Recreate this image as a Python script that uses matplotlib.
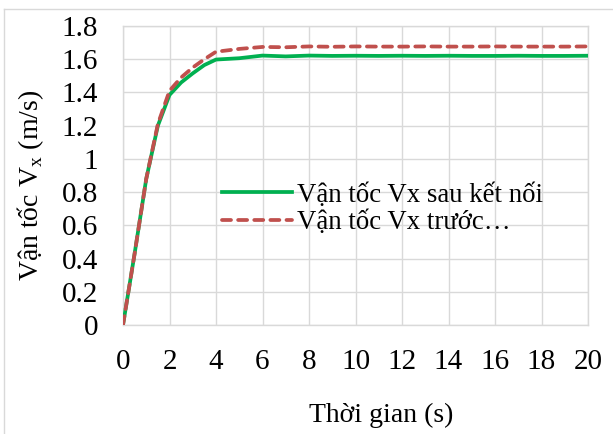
import matplotlib
matplotlib.use("Agg")
import matplotlib.pyplot as plt
from matplotlib.lines import Line2D

# Data
t = [0, 0.5, 1, 1.5, 2, 2.5, 3, 3.5, 4, 5, 6, 7, 8, 9, 10, 11, 12, 13, 14, 15, 16, 17, 18, 19, 20]
v_after = [0, 0.43, 0.88, 1.20, 1.385, 1.46, 1.515, 1.565, 1.598, 1.606, 1.622, 1.617, 1.622, 1.62,
           1.621, 1.62, 1.621, 1.62, 1.621, 1.62, 1.62, 1.621, 1.62, 1.62, 1.621]
v_before = [0, 0.43, 0.88, 1.21, 1.41, 1.49, 1.55, 1.60, 1.645, 1.662, 1.674, 1.672, 1.677, 1.675,
            1.677, 1.676, 1.676, 1.677, 1.676, 1.676, 1.677, 1.676, 1.676, 1.676, 1.677]
label_after = "Vận tốc Vx sau kết nối"
label_before = "Vận tốc Vx trước…"
xticks = list(range(0, 21, 2))
yticks = [0, 0.2, 0.4, 0.6, 0.8, 1.0, 1.2, 1.4, 1.6, 1.8]
ytick_labels = ["0", "0.2", "0.4", "0.6", "0.8", "1", "1.2", "1.4", "1.6", "1.8"]

plt.rcParams['font.family'] = ['Liberation Serif', 'DejaVu Serif']
plt.rcParams['mathtext.fontset'] = 'custom'
plt.rcParams['mathtext.rm'] = 'Liberation Serif'

W, H = 613, 434
fig = plt.figure(figsize=(W / 100, H / 100), dpi=100)
ax = fig.add_axes([123 / W, 1 - 325 / H, (588 - 123) / W, (325 - 26) / H])

grid_c = '#d9d9d9'
green, red = '#00B050', '#C0504D'
lw = 2.7
red_dash = (2.4, 1.9)
ax.plot(t, v_after, color=green, lw=lw, solid_capstyle='round', solid_joinstyle='round', zorder=3)
ax.plot(t, v_before, color=red, lw=lw, dashes=red_dash, dash_capstyle='round', zorder=4)

ax.set_xlim(0, 20)
ax.set_ylim(0, 1.8)
ax.set_xticks(xticks)
ax.set_yticks(yticks)
ax.set_yticklabels(ytick_labels)
ax.tick_params(axis='both', length=0, labelsize=21)
ax.tick_params(axis='y', pad=18)
ax.tick_params(axis='x', pad=17)
ax.grid(True, color=grid_c, lw=1.0)
ax.set_axisbelow(True)
for s in ax.spines.values():
    s.set_color(grid_c)
    s.set_linewidth(1.0)

# axis titles
fig.text(381 / W, 1 - 415 / H, "Thời gian (s)", ha='center', va='center', fontsize=20)
fig.text(31 / W, 1 - 185 / H, r"Vận tốc V$_\mathregular{x}$ (m/s)", ha='center', va='center',
         rotation=90, fontsize=20)

# legend
handles = [Line2D([], [], color=green, lw=lw),
           Line2D([], [], color=red, lw=lw, dashes=red_dash, dash_capstyle='round')]
leg = fig.legend(handles, [label_after, label_before], loc='center left',
                 bbox_to_anchor=(222 / W, 1 - 209 / H), frameon=False, fontsize=19.3,
                 handlelength=2.6, handletextpad=0.2, borderpad=0, borderaxespad=0,
                 labelspacing=0.1)

# outer chart frame
fig.add_artist(Line2D([4 / W, 1], [1 - 9 / H, 1 - 9 / H], color=grid_c, lw=1.0, transform=fig.transFigure))
fig.add_artist(Line2D([4 / W, 4 / W], [0, 1 - 9 / H], color=grid_c, lw=1.0, transform=fig.transFigure))

fig.savefig("out.png", dpi=100)
